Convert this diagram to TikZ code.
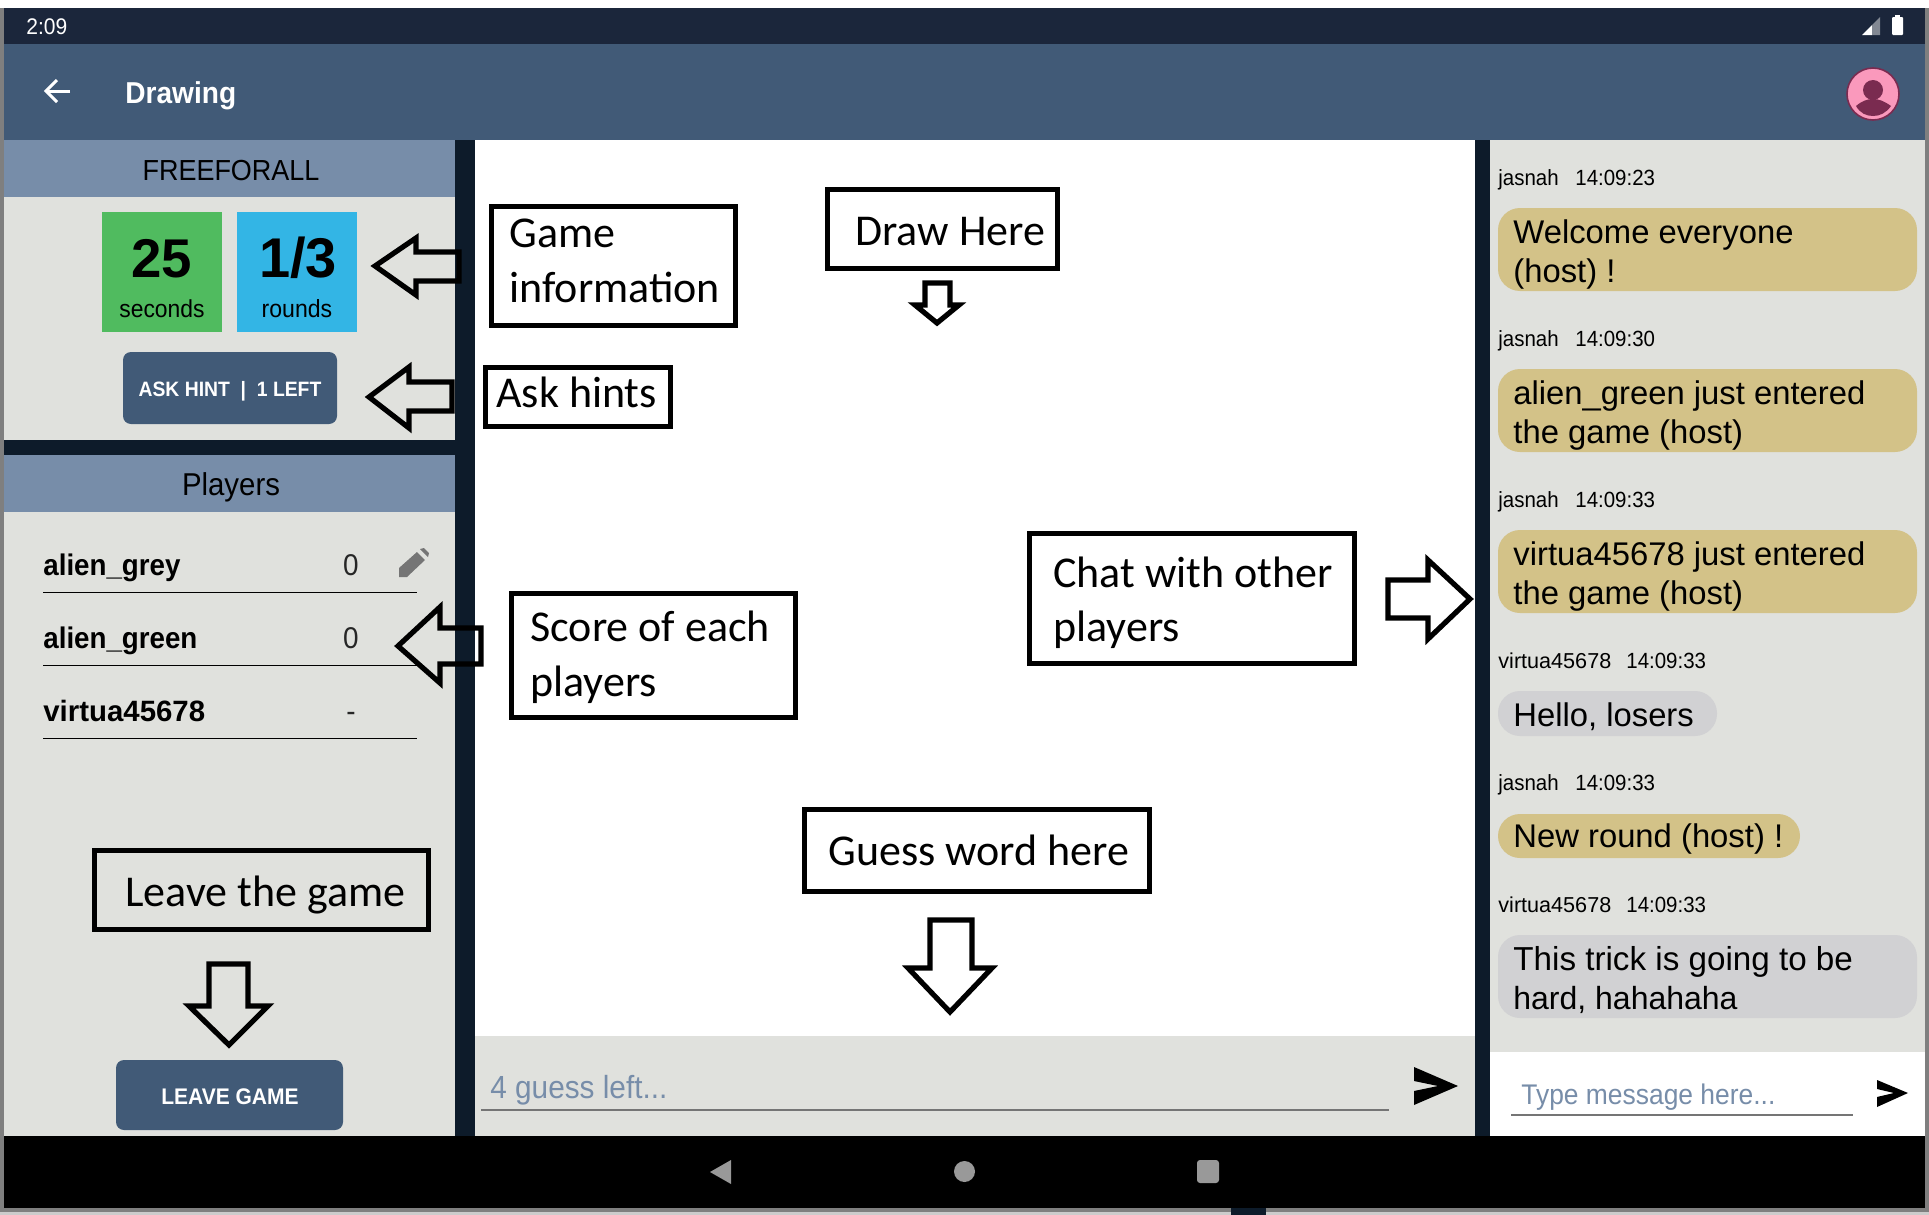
\documentclass[tikz,border=0pt]{standalone}
\usepackage{fontspec}
\setmainfont{Liberation Sans}
\newfontfamily\rb[FakeStretch=0.93]{Liberation Sans}
\newfontfamily\cb{Carlito}
\newcommand\fz[1]{\fontsize{#1}{#1}\selectfont}
\definecolor{statusc}{HTML}{1B263B}
\definecolor{barc}{HTML}{415A77}
\definecolor{headc}{HTML}{778DA9}
\definecolor{panelc}{HTML}{E0E1DD}
\definecolor{darkc}{HTML}{0D1B2A}
\definecolor{goldc}{HTML}{D3C288}
\definecolor{greyb}{HTML}{D1D1D3}
\definecolor{greenb}{HTML}{50BB5F}
\definecolor{blueb}{HTML}{33B5E5}
\definecolor{pinkc}{HTML}{FA99BC}
\definecolor{plumc}{HTML}{7A2B50}
\definecolor{framec}{HTML}{7F7F7F}
\definecolor{penc}{HTML}{757575}
\definecolor{navc}{HTML}{999999}
\tikzset{
 x=0.5pt,y=-0.5pt,
 tw/.style={inner sep=0pt,anchor=base west,font=\rb},
 tc/.style={inner sep=0pt,anchor=base,font=\rb},
 call/.style={inner sep=0pt,anchor=base west,font={\cb\fz{22}}},
 cbox/.style={draw=black,line width=2.6pt,fill=white},
 cboxn/.style={draw=black,line width=2.6pt},
 outarrow/.style={draw=black,line width=2.6pt,miter limit=10,line join=miter},
 bubble/.style={rounded corners=11pt},
 rule/.style={draw=black,line width=0.5pt},
 bubtext/.style={inner sep=0pt,anchor=base west,font={\fz{16.4}}},
 meta/.style={inner sep=0pt,anchor=base west,font={\rb\fz{11}}},
 rowname/.style={inner sep=0pt,anchor=base west,font={\rb\bfseries\fz{14.9}}},
 rowscore/.style={inner sep=0pt,anchor=base,font={\rb\fz{15}},text=black!85},
}
\begin{document}
\begin{tikzpicture}
\useasboundingbox (0,0) rectangle (1929,1215);
\fill[white] (0,0) rectangle (1929,1215);
% frame
\fill[framec] (0,8) rectangle (1929,1212);
\fill[black!20] (0,1212) rectangle (1929,1215);
% status and app bars
\fill[statusc] (4,8) rectangle (1925,44);
\fill[barc] (4,44) rectangle (1925,140);
% panels
\fill[panelc] (4,140) rectangle (455,1136);
\fill[headc] (4,140) rectangle (455,197);
\fill[darkc] (4,440) rectangle (455,455);
\fill[headc] (4,455) rectangle (455,512);
\fill[darkc] (455,140) rectangle (475,1136);
\fill[white] (475,140) rectangle (1475,1036);
\fill[panelc] (475,1036) rectangle (1475,1136);
\fill[darkc] (1475,140) rectangle (1490,1136);
\fill[panelc] (1490,140) rectangle (1925,1052);
\fill[white] (1490,1052) rectangle (1925,1136);
\fill[black] (4,1136) rectangle (1925,1208);
\fill[darkc] (1231,1208) rectangle (1266,1215);
% status
\node[tw,text=white,font={\rb\fz{11.3}}] (clock) at (26,34) {2:09};
\fill[white] (1862,35) -- (1872,25) -- (1872,35) -- cycle;
\fill[white!45!statusc] (1872,25) -- (1880,17) -- (1880,35) -- (1872,35) -- cycle;
\fill[white,rounded corners=0.5pt] (1892,17) rectangle (1903,35);
\fill[white] (1895,15) rectangle (1900,18);
% app bar
\draw[white,line width=1.5pt] (70,91) -- (46,91);
\draw[white,line width=1.5pt,line join=miter] (57,80) -- (46,91) -- (57,102);
\node[tw,text=white,font={\rb\bfseries\fz{15.1}}] (title) at (125,103) {Drawing};
\draw[plumc,fill=pinkc,line width=0.8pt] (1873,94) circle[radius=26];
\fill[plumc] (1873,90) circle[radius=10];
\fill[plumc] (1856,106) .. controls (1862,101) and (1867,99) .. (1873,99) .. controls (1879,99) and (1884,101) .. (1891,106) .. controls (1886,113) and (1880,116) .. (1873,116) .. controls (1866,116) and (1860,113) .. (1856,106) -- cycle;
% left top
\node[tc,font={\rb\fz{14.5}}] (mode) at (231,180) {FREEFORALL};
\fill[greenb] (102,212) rectangle (222,332);
\fill[blueb] (237,212) rectangle (357,332);
\node[tc,font={\bfseries\fz{27.3}}] (secs) at (162,277) {25};
\node[tc,font={\bfseries\fz{28}}] (rnds) at (298,277) {1/3};
\node[tc,font={\rb\fz{12.3}}] (secl) at (162,317) {seconds};
\node[tc,font={\rb\fz{12.4}}] (rndl) at (297,317) {rounds};
\fill[barc,rounded corners=4pt] (123,352) rectangle (337,424);
\node[tc,text=white,font={\rb\bfseries\fz{10.4}}] (hint) at (230,396) {ASK HINT\ \ |\ \ 1 LEFT};
% players
\node[tc,font={\rb\fz{15.8}}] (players) at (231,495) {Players};
\node[rowname] (p1) at (43,575) {alien\_grey};
\node[rowscore] (s1) at (351,575) {0};
\draw[rule] (43,592) -- (417,592);
\node[rowname] (p2) at (43,648) {alien\_green};
\node[rowscore] (s2) at (351,648) {0};
\draw[rule] (43,665.5) -- (417,665.5);
\node[rowname,font={\bfseries\fz{14.7}}] (p3) at (43,721) {virtua45678};
\node[rowscore] (s3) at (351,721) {-};
\draw[rule] (43,738) -- (417,738);
\fill[penc] (399,577) -- (399,568) -- (417,552) -- (425,560) -- (407,577) -- cycle;
\fill[penc] (420,549) -- (424,548) -- (429,553) -- (428,557) -- cycle;
% leave
\fill[barc,rounded corners=4pt] (116,1060) rectangle (343,1130);
\node[tc,text=white,font={\rb\bfseries\fz{11.3}}] (leave) at (230,1104) {LEAVE GAME};
% inputs
\node[tw,text=headc,font={\rb\fz{16}}] (guess) at (490,1098) {4 guess left...};
\draw[penc,line width=0.8pt] (481,1110) -- (1389,1110);
\fill[black] (1414,1067) -- (1458,1086) -- (1414,1105) -- (1414,1091) -- (1438,1086) -- (1414,1081) -- cycle;
\node[tw,text=headc,font={\rb\fz{14.2}}] (typemsg) at (1521,1104) {Type message here...};
\draw[penc,line width=0.8pt] (1511,1115) -- (1853,1115);
\fill[black] (1877,1080) -- (1908,1093) -- (1877,1107) -- (1877,1097) -- (1894,1093) -- (1877,1089) -- cycle;
% nav
\fill[navc] (731,1160) -- (710,1172) -- (731,1184) -- cycle;
\fill[navc] (964.5,1171.5) circle[radius=10.5];
\fill[navc,rounded corners=1.5pt] (1197,1160) rectangle (1219,1183);
% chat
\node[meta] at (1498,185) {jasnah}; \node[meta] at (1575,185) {14:09:23};
\fill[goldc,bubble] (1498,208) rectangle (1917,291);
\node[bubtext] at (1513,243) {Welcome everyone};
\node[bubtext] at (1513,282) {(host) !};
\node[meta] at (1498,346) {jasnah}; \node[meta] at (1575,346) {14:09:30};
\fill[goldc,bubble] (1498,369) rectangle (1917,452);
\node[bubtext] at (1513,404) {alien\_green just entered};
\node[bubtext] at (1513,443) {the game (host)};
\node[meta] at (1498,507) {jasnah}; \node[meta] at (1575,507) {14:09:33};
\fill[goldc,bubble] (1498,530) rectangle (1917,613);
\node[bubtext] at (1513,565) {virtua45678 just entered};
\node[bubtext] at (1513,604) {the game (host)};
\node[meta,font={\fz{10.8}}] at (1498,668) {virtua45678}; \node[meta] at (1626,668) {14:09:33};
\fill[greyb,bubble] (1498,691) rectangle (1717,736);
\node[bubtext] at (1513,726) {Hello, losers};
\node[meta] at (1498,790) {jasnah}; \node[meta] at (1575,790) {14:09:33};
\fill[goldc,bubble] (1498,814) rectangle (1800,858);
\node[bubtext] at (1513,847) {New round (host) !};
\node[meta,font={\fz{10.8}}] at (1498,912) {virtua45678}; \node[meta] at (1626,912) {14:09:33};
\fill[greyb,bubble] (1498,935) rectangle (1917,1018);
\node[bubtext,font={\fz{16.6}}] at (1513,970) {This trick is going to be};
\node[bubtext,font={\fz{16}}] at (1513,1009) {hard, hahahaha};
% callouts
\draw[cbox] (491.5,206.5) rectangle (735.5,325.5);
\node[call] at (509,247) {Game};
\node[call] at (509,302) {information};
\draw[cbox] (827.5,189.5) rectangle (1057.5,268.5);
\node[call] at (855,245) {Draw Here};
\draw[cbox] (485.5,367.5) rectangle (670.5,426.5);
\node[call] at (496,407) {Ask hints};
\draw[cbox] (511.5,593.5) rectangle (795.5,717.5);
\node[call] at (530,641) {Score of each};
\node[call] at (530,696) {players};
\draw[cbox] (1029.5,533.5) rectangle (1354.5,663.5);
\node[call] at (1053,587) {Chat with other};
\node[call] at (1053,641) {players};
\draw[cbox] (804.5,809.5) rectangle (1149.5,891.5);
\node[call] at (828,865) {Guess word here};
\draw[cboxn] (94.5,850.5) rectangle (428.5,929.5);
\node[call] at (125,906) {Leave the game};
% outline arrows
\draw[outarrow] (459,252) -- (416,252) -- (416,238) -- (375,266) -- (416,295) -- (416,281) -- (459,281) -- cycle;
\draw[outarrow] (452,382) -- (409,382) -- (409,367) -- (369,397) -- (409,428) -- (409,411) -- (452,411) -- cycle;
\draw[outarrow] (481,628) -- (440,628) -- (440,607) -- (398,646) -- (440,683) -- (440,664) -- (481,664) -- cycle;
\draw[outarrow] (209,964) -- (248,964) -- (248,1006) -- (268,1006) -- (229,1045) -- (189,1006) -- (209,1006) -- cycle;
\draw[outarrow] (930,920) -- (972,920) -- (972,968) -- (992,968) -- (950,1012) -- (908,968) -- (930,968) -- cycle;
\draw[outarrow] (925,283) -- (950,283) -- (950,305) -- (959,305) -- (937,323) -- (915,305) -- (925,305) -- cycle;
\draw[outarrow] (1388,580) -- (1428,580) -- (1428,560) -- (1470,599) -- (1428,639) -- (1428,618) -- (1388,618) -- cycle;
\end{tikzpicture}
\end{document}
